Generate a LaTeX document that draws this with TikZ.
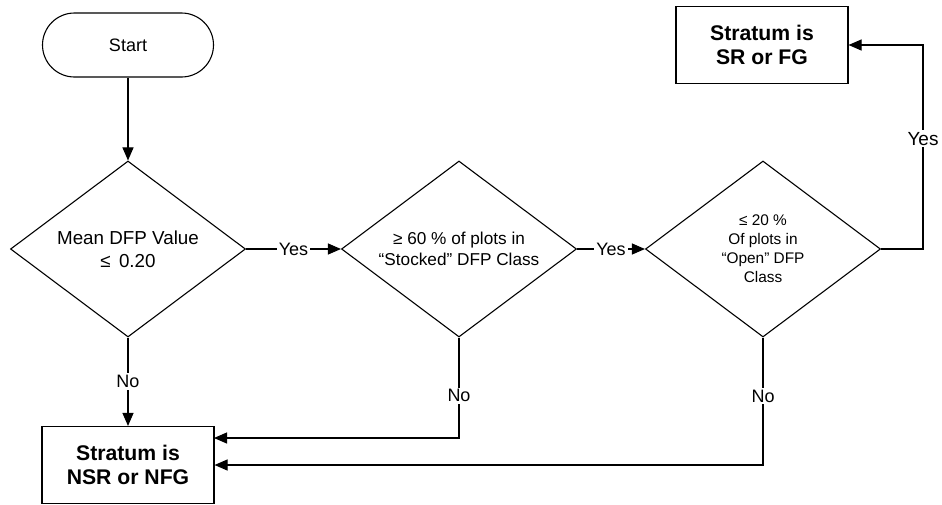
\documentclass[tikz,border=0pt]{standalone}
\usepackage{fontspec}
\setmainfont{Liberation Sans}
\usetikzlibrary{shapes.geometric,arrows.meta}
\begin{document}
\begin{tikzpicture}[x=0.5pt,y=-0.5pt, line width=0.55pt,
 arr/.style={-{Triangle[length=6.5pt,width=5.5pt]}},
 dec/.style={diamond, draw, aspect=1.34, inner sep=0pt, minimum width=117.5pt, minimum height=88pt, align=center},
 term/.style={draw, rounded corners=16pt, minimum width=85.5pt, minimum height=32pt, font=\fontsize{9}{11}\selectfont},
 endbox/.style={draw, minimum width=86pt, minimum height=38.5pt, align=center, font=\fontsize{10.6}{12}\selectfont\bfseries},
 lbl/.style={fill=white, inner sep=1pt, font=\fontsize{9}{10}\selectfont}]
\useasboundingbox (0,0) rectangle (942,504);
\node[term] (start) at (128,45) {Start};
\node[dec, font=\fontsize{9.4}{11.3}\selectfont] (d1) at (128,249) {Mean DFP Value\\ ≤\, 0.20};
\node[dec, font=\fontsize{8.6}{10.5}\selectfont] (d2) at (459,249) {≥ 60 \% of plots in\\ “Stocked” DFP Class};
\node[dec, font=\fontsize{7.7}{9.5}\selectfont] (d3) at (763,249) {≤ 20 \%\\ Of plots in\\ “Open” DFP\\ Class};
\node[endbox] (sr) at (762,45) {Stratum is\\ SR or FG};
\node[endbox] (nsr) at (128,465) {Stratum is\\ NSR or NFG};
\coordinate (rx) at (923,249);
\coordinate (n1) at (214,438);
\draw[arr] (start) -- (d1);
\draw[arr] (d1.east) -- node[lbl]{Yes} (d2.west);
\draw[arr] (d2.east) -- node[lbl]{Yes} (d3.west);
\draw[arr] (d3.east) -- (rx) |- node[lbl, pos=0.27, font=\fontsize{9.5}{10}\selectfont]{Yes} (sr.east);
\draw[arr] (d1.south) -- node[lbl]{No} (nsr.north);
\draw[arr] (d2.south) |- node[lbl, pos=0.29]{No} (n1);
\draw[arr] (d3.south) |- node[lbl, pos=0.23]{No} (nsr.east);
\end{tikzpicture}
\end{document}
